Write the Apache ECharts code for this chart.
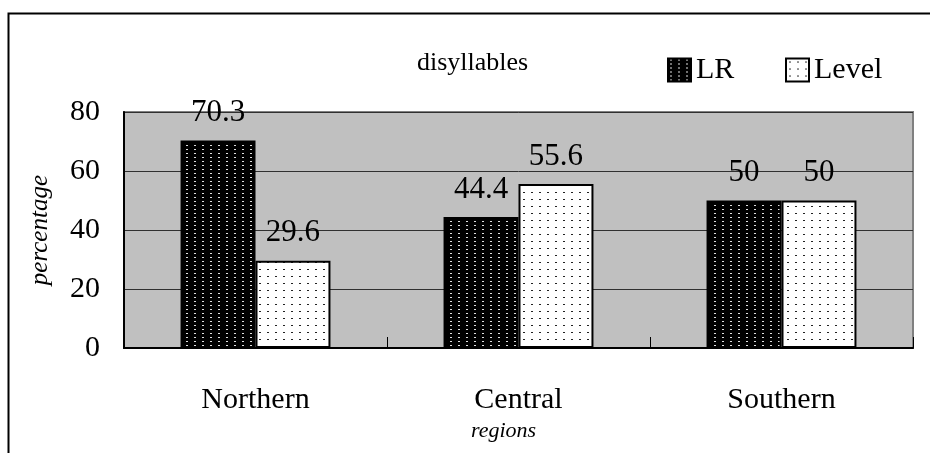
<!DOCTYPE html>
<html>
<head>
<meta charset="utf-8">
<script src="https://cdn.jsdelivr.net/npm/echarts@6/dist/echarts.min.js"></script>
<style>html,body{margin:0;padding:0;background:#fff}#c{width:930px;height:453px}</style>
</head>
<body>
<div id="c"></div>
<script>
var categories = ['Northern', 'Central', 'Southern'];
var lrValues = [70.3, 44.4, 50];
var levelValues = [29.6, 55.6, 50];
var yTicks = [0, 20, 40, 60, 80];
var seriesNames = ['LR', 'Level'];

function makePattern(w, h, bg, dots, dotColor) {
  var c = document.createElement('canvas');
  c.width = w; c.height = h;
  var g = c.getContext('2d');
  g.fillStyle = bg; g.fillRect(0, 0, w, h);
  g.fillStyle = dotColor;
  dots.forEach(function (d) { g.fillRect(d[0], d[1], d[2] || 1, d[3] || 1); });
  return c;
}
var lrPat = makePattern(8, 4, '#000', [[2, 1, 2, 1]], '#e0e0e0');
var lvPat = makePattern(8, 7, '#fff', [[3, 3, 2, 1]], '#222');

var serif = '"Liberation Serif", "Times New Roman", serif';
var chart = echarts.init(document.getElementById('c'), null, {renderer: 'canvas'});
chart.setOption({
  animation: false,
  backgroundColor: '#fff',
  textStyle: {fontFamily: serif, color: '#000'},
  title: {
    text: 'disyllables', left: 417, top: 50, padding: 0,
    textStyle: {fontFamily: serif, fontSize: 26, fontWeight: 'normal', color: '#000'}
  },
  legend: [
    {data: ['LR'], left: 667, top: 55, padding: 0, itemWidth: 23, itemHeight: 23, itemGap: 6,
     textStyle: {fontFamily: serif, fontSize: 30, color: '#000'}, icon: 'rect'},
    {data: ['Level'], left: 785, top: 55, padding: 0, itemWidth: 23, itemHeight: 23, itemGap: 6,
     textStyle: {fontFamily: serif, fontSize: 30, color: '#000'}, icon: 'rect'}
  ],
  grid: {left: 124, right: 17, top: 112, bottom: 105, show: true, backgroundColor: '#c0c0c0', borderColor: '#808080', borderWidth: 2},
  graphic: [
    {type: 'rect', shape: {x: 8.5, y: 13.5, width: 1000, height: 1000}, style: {fill: 'none', stroke: '#000', lineWidth: 2}, z: 100},
    {type: 'text', left: 471, top: 420, style: {text: 'regions', font: 'italic 22px ' + serif, fill: '#000'}},
    {type: 'text', left: 28, top: 175, rotation: Math.PI / 2, style: {text: 'percentage', font: 'italic 25px ' + serif, fill: '#000'}}
  ],
  xAxis: {
    type: 'category', data: categories,
    axisLine: {lineStyle: {color: '#000', width: 2}},
    axisTick: {show: true, inside: true, length: 11, lineStyle: {color: '#000', width: 1}},
    axisLabel: {fontFamily: serif, fontSize: 30, color: '#000', margin: 37}
  },
  yAxis: {
    type: 'value', min: yTicks[0], max: yTicks[yTicks.length - 1], interval: 20,
    axisLine: {show: true, lineStyle: {color: '#000', width: 2}},
    axisTick: {show: false},
    splitLine: {lineStyle: {color: '#303030', width: 1}},
    axisLabel: {fontFamily: serif, fontSize: 30, color: '#000', margin: 24}
  },
  series: [
    {name: seriesNames[0], type: 'bar', data: lrValues, barGap: '0%', barCategoryGap: '43%',
     itemStyle: {color: {image: lrPat, repeat: 'repeat'}, borderColor: '#000', borderWidth: 2},
     label: {show: true, position: 'top', distance: 12, fontFamily: serif, fontSize: 31, color: '#000'}},
    {name: seriesNames[1], type: 'bar', data: levelValues, barGap: '0%', barCategoryGap: '43%',
     itemStyle: {color: {image: lvPat, repeat: 'repeat'}, borderColor: '#000', borderWidth: 2},
     label: {show: true, position: 'top', distance: 12, fontFamily: serif, fontSize: 31, color: '#000'}}
  ]
});
</script>
</body>
</html>
